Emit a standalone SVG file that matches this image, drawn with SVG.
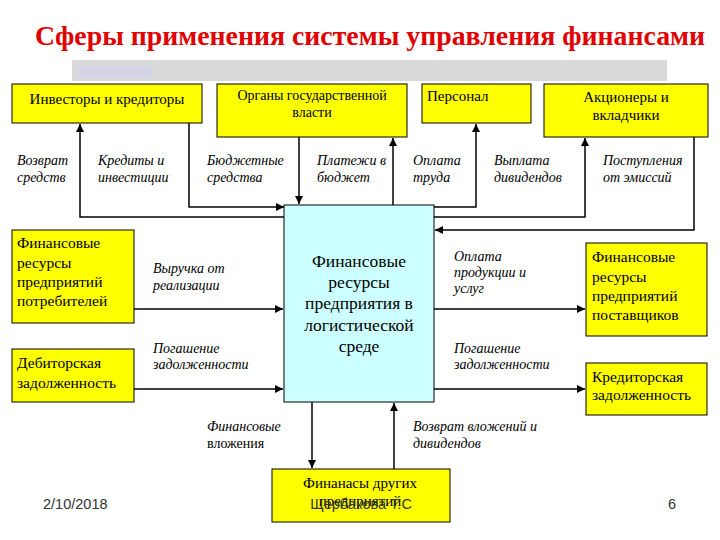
<svg xmlns="http://www.w3.org/2000/svg" width="720" height="540" viewBox="0 0 720 540">
<defs>
<marker id="ah" markerUnits="userSpaceOnUse" markerWidth="9" markerHeight="8" refX="8" refY="4" orient="auto">
<path d="M0,0 L8,4 L0,8 z" fill="#000"/>
</marker>
<style>
.box{fill:#ffff00;stroke:#000;stroke-width:1}
.ctr{fill:#ccffff;stroke:#000;stroke-width:1}
.t{font-family:"Liberation Serif","Times New Roman","DejaVu Serif",serif;fill:#000}
.top{font-size:14px}
.side{font-size:15.5px}
.cen{font-size:17.5px}
.lbl{font-family:"Liberation Serif","Times New Roman","DejaVu Serif",serif;font-style:italic;font-size:14px;fill:#000}
.ttl{font-family:"Liberation Serif","Times New Roman","DejaVu Serif",serif;font-weight:bold;font-size:27px;fill:#e00000}
.ln{fill:none;stroke:#000;stroke-width:1.5}
.foot{font-family:"Liberation Sans",Arial,sans-serif;font-size:14.5px;fill:#333}
</style>
</defs>
<rect width="720" height="540" fill="#fff"/>
<text class="ttl" x="35" y="45" textLength="670" lengthAdjust="spacingAndGlyphs">Сферы применения системы управления финансами</text>
<rect x="72" y="60" width="595" height="21" fill="#d9d9d9"/>
<rect x="78" y="66" width="74" height="12" fill="#d4d4e6"/>

<g id="connectors">
<path class="ln" d="M285,217 H80 V124" marker-end="url(#ah)" stroke-width="2"/>
<path class="ln" d="M189,123 V207 H284" marker-end="url(#ah)"/>
<path class="ln" d="M299,137 V204" marker-end="url(#ah)"/>
<path class="ln" d="M393,205 V138" marker-end="url(#ah)"/>
<path class="ln" d="M434,207 H476 V124" marker-end="url(#ah)"/>
<path class="ln" d="M434,217 H585 V138" marker-end="url(#ah)"/>
<path class="ln" d="M694,137 V230 H435" marker-end="url(#ah)"/>
<path class="ln" d="M134,309 H283" marker-end="url(#ah)"/>
<path class="ln" d="M134,389 H283" marker-end="url(#ah)"/>
<path class="ln" d="M434,309 H585" marker-end="url(#ah)"/>
<path class="ln" d="M434,389 H585" marker-end="url(#ah)"/>
<path class="ln" d="M312,402 V468" marker-end="url(#ah)"/>
<path class="ln" d="M394,469 V403" marker-end="url(#ah)"/>
</g>

<g id="investors">
<rect class="box" x="12" y="84" width="190" height="39"/>
<text class="t" x="107" y="104" font-size="15" text-anchor="middle">Инвесторы и кредиторы</text>
</g>
<g id="government">
<rect class="box" x="217" y="84" width="190" height="53"/>
<text class="t top" x="312" y="100" text-anchor="middle">Органы государственной</text>
<text class="t top" x="312" y="117" text-anchor="middle">власти</text>
</g>
<g id="personnel">
<rect class="box" x="422" y="84" width="109" height="39"/>
<text class="t" x="427" y="101" font-size="15">Персонал</text>
</g>
<g id="shareholders">
<rect class="box" x="544" y="84" width="164" height="53"/>
<text class="t" x="626" y="102" font-size="15" text-anchor="middle">Акционеры и</text>
<text class="t" x="626" y="120" font-size="15" text-anchor="middle">вкладчики</text>
</g>

<g id="labels-top">
<text class="lbl" x="17" y="165">Возврат</text>
<text class="lbl" x="17" y="182">средств</text>
<text class="lbl" x="98" y="165">Кредиты и</text>
<text class="lbl" x="98" y="182">инвестиции</text>
<text class="lbl" x="207" y="165">Бюджетные</text>
<text class="lbl" x="207" y="182">средства</text>
<text class="lbl" x="317" y="165">Платежи в</text>
<text class="lbl" x="317" y="182">бюджет</text>
<text class="lbl" x="413" y="165">Оплата</text>
<text class="lbl" x="413" y="182">труда</text>
<text class="lbl" x="494" y="165">Выплата</text>
<text class="lbl" x="494" y="182">дивидендов</text>
<text class="lbl" x="603" y="165">Поступления</text>
<text class="lbl" x="603" y="182">от эмиссий</text>
</g>

<g id="center">
<rect class="ctr" x="284" y="205" width="150" height="197"/>
<text class="t cen" x="359" y="267" text-anchor="middle">Финансовые</text>
<text class="t cen" x="359" y="288" text-anchor="middle">ресурсы</text>
<text class="t cen" x="359" y="309" text-anchor="middle">предприятия в</text>
<text class="t cen" x="359" y="331" text-anchor="middle">логистической</text>
<text class="t cen" x="359" y="352" text-anchor="middle">среде</text>
</g>

<g id="consumers">
<rect class="box" x="12" y="230" width="122" height="93"/>
<text class="t side" x="17" y="248">Финансовые</text>
<text class="t side" x="17" y="268">ресурсы</text>
<text class="t side" x="17" y="287">предприятий</text>
<text class="t side" x="17" y="306">потребителей</text>
</g>
<g id="receivables">
<rect class="box" x="12" y="349" width="122" height="53"/>
<text class="t side" x="17" y="368">Дебиторская</text>
<text class="t side" x="17" y="388">задолженность</text>
</g>
<g id="suppliers">
<rect class="box" x="586" y="243" width="121" height="93"/>
<text class="t side" x="592" y="262">Финансовые</text>
<text class="t side" x="592" y="282">ресурсы</text>
<text class="t side" x="592" y="301">предприятий</text>
<text class="t side" x="592" y="320">поставщиков</text>
</g>
<g id="payables">
<rect class="box" x="586" y="363" width="121" height="52"/>
<text class="t side" x="592" y="382">Кредиторская</text>
<text class="t side" x="592" y="400">задолженность</text>
</g>

<g id="labels-side">
<text class="lbl" x="153" y="273">Выручка от</text>
<text class="lbl" x="153" y="290">реализации</text>
<text class="lbl" x="153" y="353">Погашение</text>
<text class="lbl" x="153" y="369">задолженности</text>
<text class="lbl" x="454" y="261">Оплата</text>
<text class="lbl" x="454" y="277">продукции и</text>
<text class="lbl" x="454" y="293">услуг</text>
<text class="lbl" x="454" y="353">Погашение</text>
<text class="lbl" x="454" y="369">задолженности</text>
<text class="lbl" x="207" y="431">Финансовые</text>
<text class="t" x="207" y="448" font-size="14">вложения</text>
<text class="lbl" x="413" y="431">Возврат вложений и</text>
<text class="lbl" x="413" y="448">дивидендов</text>
</g>

<g id="other-firms">
<rect class="box" x="272" y="469" width="178" height="53"/>
<text class="t" x="360" y="488" font-size="15" text-anchor="middle">Финанасы других</text>
<text class="t" x="360" y="506" font-size="15" text-anchor="middle">предприятий</text>
</g>

<text class="foot" x="43" y="509">2/10/2018</text>
<text class="foot" x="361" y="509" text-anchor="middle">Щербакова Т.С</text>
<text class="foot" x="668" y="509">6</text>
</svg>
